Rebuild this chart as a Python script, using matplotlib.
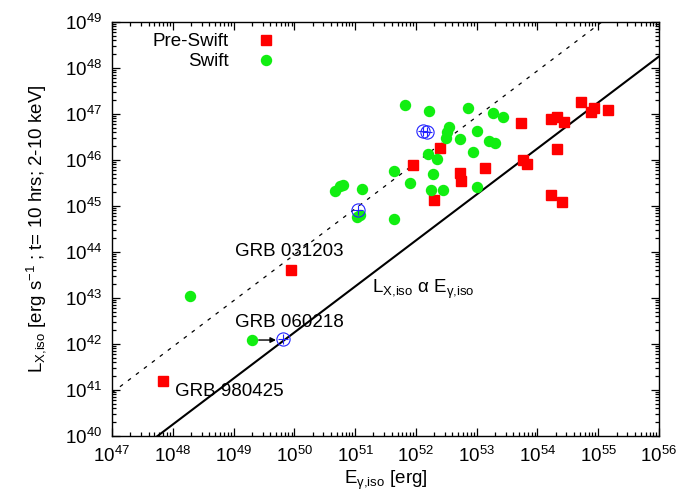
import numpy as np
import matplotlib
matplotlib.use('Agg')
import matplotlib.pyplot as plt
from matplotlib.ticker import LogLocator, LogFormatterMathtext, NullFormatter

plt.rcParams['font.family'] = ['Liberation Sans', 'DejaVu Sans']
plt.rcParams['mathtext.fontset'] = 'custom'
plt.rcParams['mathtext.rm'] = 'Liberation Sans'
plt.rcParams['mathtext.it'] = 'Liberation Sans:italic'
plt.rcParams['mathtext.bf'] = 'Liberation Sans:bold'

# pre-Swift bursts (E_gamma,iso [erg], L_X,iso [erg/s])
pre_e = [7.0e47, 8.8e49, 9.0e51, 2.5e52, 2.0e52, 5.3e52, 5.5e52, 1.37e53,
         5.4e53, 5.8e53, 6.7e53, 1.67e54, 2.1e54, 2.7e54, 2.1e54, 5.2e54,
         7.6e54, 8.5e54, 1.45e55, 1.67e54, 2.5e54]
pre_l = [1.57e41, 4.1e43, 7.8e45, 1.82e46, 1.35e45, 5.2e45, 3.5e45, 6.7e45,
         6.4e46, 1.0e46, 8.2e45, 7.8e46, 8.6e46, 6.7e46, 1.73e46, 1.82e47,
         1.1e47, 1.35e47, 1.22e47, 1.73e45, 1.22e45]

# Swift bursts
swift_e = [1.92e48, 2.0e49, 4.7e50, 5.6e50, 6.3e50, 1.3e51, 1.07e51, 1.2e51,
           4.4e51, 4.4e51, 6.6e51, 8.0e51, 1.64e52, 1.58e52, 1.77e52, 1.91e52,
           2.2e52, 2.8e52, 3.1e52, 3.3e52, 3.5e52, 5.3e52, 7.2e52, 8.7e52,
           1.01e53, 1.01e53, 1.6e53, 1.86e53, 2.0e53, 2.7e53]
swift_l = [1.1e43, 1.22e42, 2.1e45, 2.7e45, 2.9e45, 2.3e45, 5.8e44, 6.4e44,
           5.2e44, 5.8e45, 1.57e47, 3.2e45, 1.16e47, 1.35e46, 2.2e45, 5.0e45,
           1.05e46, 2.2e45, 3.0e46, 4.1e46, 5.2e46, 2.9e46, 1.35e47, 1.49e46,
           4.3e46, 2.6e45, 2.6e46, 1.05e47, 2.3e46, 8.6e46]

# open blue circles
circ_e = [6.5e49, 1.11e51, 1.31e52, 1.52e52]
circ_l = [1.29e42, 8.2e44, 4.3e46, 4.1e46]

# L = E^slope * 10^offset
solid_slope, solid_off = 1.0, -7.75
dash_slope, dash_off = 1.0, -6.06

# arrow for GRB 060218 (from, to)
arrow_e = [2.6e49, 5.0e49]
arrow_l = 1.22e42

# labels: text, E, L (left edge, vertical centre)
labels = ['GRB 031203', 'GRB 060218', 'GRB 980425']
label_e = [1.05e49, 1.05e49, 1.1e48]
label_l = [1.0e44, 2.9e42, 9.5e40]

fig = plt.figure(figsize=(6.92, 4.94), dpi=100)
ax = fig.add_axes([0.1618, 0.1174, 0.7905, 0.8381])

xx = np.logspace(47, 56, 200)
ax.plot(xx, 10**solid_off * xx**solid_slope, color='black', lw=1.5, zorder=2)
ax.plot(xx, 10**dash_off * xx**dash_slope, color='black', lw=0.9,
        linestyle=(0, (3, 5)), zorder=2)

ax.plot(pre_e, pre_l, 's', color='#ff0000', ms=6.5, mec='#ff0000',
        label='Pre-Swift', zorder=3)
ax.plot(swift_e, swift_l, 'o', color='#11ee11', ms=7.2, mec='#11ee11',
        label='Swift', zorder=3)
ax.plot(circ_e, circ_l, 'o', mfc='none', mec='#2222ff', ms=9.5, mew=0.8,
        zorder=4)
ax.plot(circ_e, circ_l, '+', color='#2222ff', ms=7, mew=0.8, zorder=4)

ax.annotate('', xy=(arrow_e[1], arrow_l), xytext=(arrow_e[0], arrow_l),
            arrowprops=dict(arrowstyle='-|>', color='black', lw=1,
                            mutation_scale=8, shrinkA=0, shrinkB=0))

fs = 13.5
for t, e, l in zip(labels, label_e, label_l):
    ax.text(e, l, t, fontsize=fs, va='center', ha='left')
ax.text(1.9e51, 1.5e43,
        r'L$_{\mathrm{X{,}iso}}$ $\mathrm{\alpha}$ E$_{\mathrm{\gamma{,}iso}}$',
        fontsize=fs, va='center', ha='left')

ax.set_xscale('log')
ax.set_yscale('log')
ax.set_xlim(1e47, 1e56)
ax.set_ylim(1e40, 1e49)

for axis in (ax.xaxis, ax.yaxis):
    axis.set_major_locator(LogLocator(base=10, numticks=20))
    axis.set_minor_locator(LogLocator(base=10, subs=np.arange(2, 10), numticks=20))
    axis.set_major_formatter(LogFormatterMathtext())
    axis.set_minor_formatter(NullFormatter())

ax.tick_params(which='both', direction='in', top=True, right=True,
               labelsize=fs, width=0.9)
ax.tick_params(which='major', length=6, pad=7)
ax.tick_params(which='minor', length=3)
for s in ax.spines.values():
    s.set_linewidth(1.0)

ax.set_xlabel(r'E$_{\mathrm{\gamma{,}iso}}$ [erg]', fontsize=fs, labelpad=2)
ax.set_ylabel(r'L$_{\mathrm{X{,}iso}}$ [erg s$^{\mathrm{-1}}$ ; t= 10 hrs; 2-10 keV]',
              fontsize=fs, labelpad=12)

ax.legend(loc='upper left', bbox_to_anchor=(0.053, 1.0), frameon=False,
          markerfirst=False, fontsize=fs, handletextpad=1.0,
          labelspacing=0.15, borderaxespad=0.2)

fig.savefig('out.png', dpi=100)
